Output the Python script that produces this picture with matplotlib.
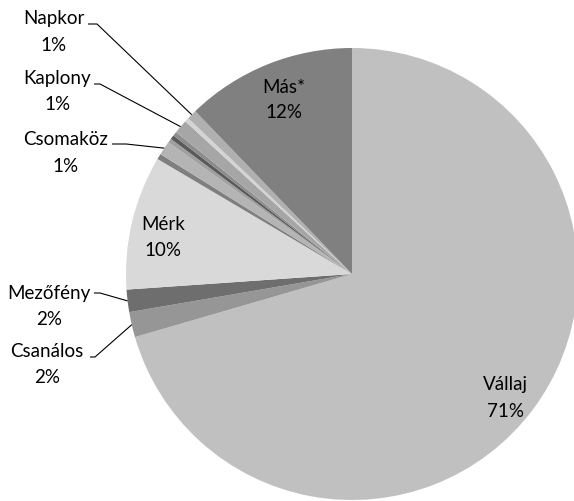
import numpy as np
import matplotlib.pyplot as plt

# Данные круговой диаграммы (по часовой стрелке от 12 часов)
names = ['Vállaj', 'Csanálos', 'Mezőfény', 'Mérk', '', 'Csomaköz', '', '', '',
         'Kaplony', '', 'Napkor', 'Más*']
values = [70.5, 1.8, 1.6, 9.6, 0.4, 1.0, 0.3, 0.3, 0.3, 1.0, 0.3, 0.7, 12.2]
pct_labels = ['71%', '2%', '2%', '10%', '', '1%', '', '', '', '1%', '', '1%', '12%']
colors = ['#c0c0c0', '#969696', '#6e6e6e', '#d9d9d9', '#7f7f7f', '#b4b4b4',
          '#a0a0a0', '#5a5a5a', '#8c8c8c', '#a6a6a6', '#d4d4d4', '#b0b0b0',
          '#808080']

W, H = 574, 501
cx, cy, R = 352, 274, 226   # центр и радиус в пикселях (y вниз)


def Y(y):
    return H - y


fig = plt.figure(figsize=(W / 100, H / 100), dpi=100)
ax = fig.add_axes([0, 0, 1, 1])
wedges, _ = ax.pie(values, colors=colors, startangle=90, counterclock=False,
                   center=(cx, Y(cy)), radius=R,
                   wedgeprops=dict(linewidth=0))
ax.set_xlim(0, W)
ax.set_ylim(0, H)
ax.set_aspect('auto')
ax.axis('off')

font = dict(family='Lato', fontsize=13.5, color='black', ha='center',
            va='baseline')

# Подписи внутри секторов: x, базовая линия имени, базовая линия процента
inside = {'Vállaj': (505, 390, 417), 'Mérk': (163, 230, 256),
          'Más*': (284, 93, 118)}
# Подписи снаружи: x, базовые линии, начало выноски (x0, x1, y)
outside = {'Napkor': (54, 24, 51, (88, 97, 24)),
           'Kaplony': (57, 83.5, 110, (94, 100, 84)),
           'Csomaköz': (66, 145, 171.5, (112, 126, 144)),
           'Mezőfény': (49, 299, 325, (94, 100, 293)),
           'Csanálos': (47, 357, 383, (90, 95, 357))}

for w, name, pct in zip(wedges, names, pct_labels):
    if name in inside:
        x, b1, b2 = inside[name]
        ax.text(x, Y(b1), name, **font)
        ax.text(x, Y(b2), pct, **font)
    elif name in outside:
        x, b1, b2, (x0, x1, ly) = outside[name]
        ax.text(x, Y(b1), name, **font)
        ax.text(x, Y(b2), pct, **font)
        mid = np.deg2rad((w.theta1 + w.theta2) / 2)
        ex = w.center[0] + w.r * np.cos(mid)
        ey = w.center[1] + w.r * np.sin(mid)
        ax.plot([x0, x1, ex], [Y(ly), Y(ly), ey], color='black', lw=0.8,
                solid_capstyle='butt')

fig.savefig('out.png', dpi=100)
